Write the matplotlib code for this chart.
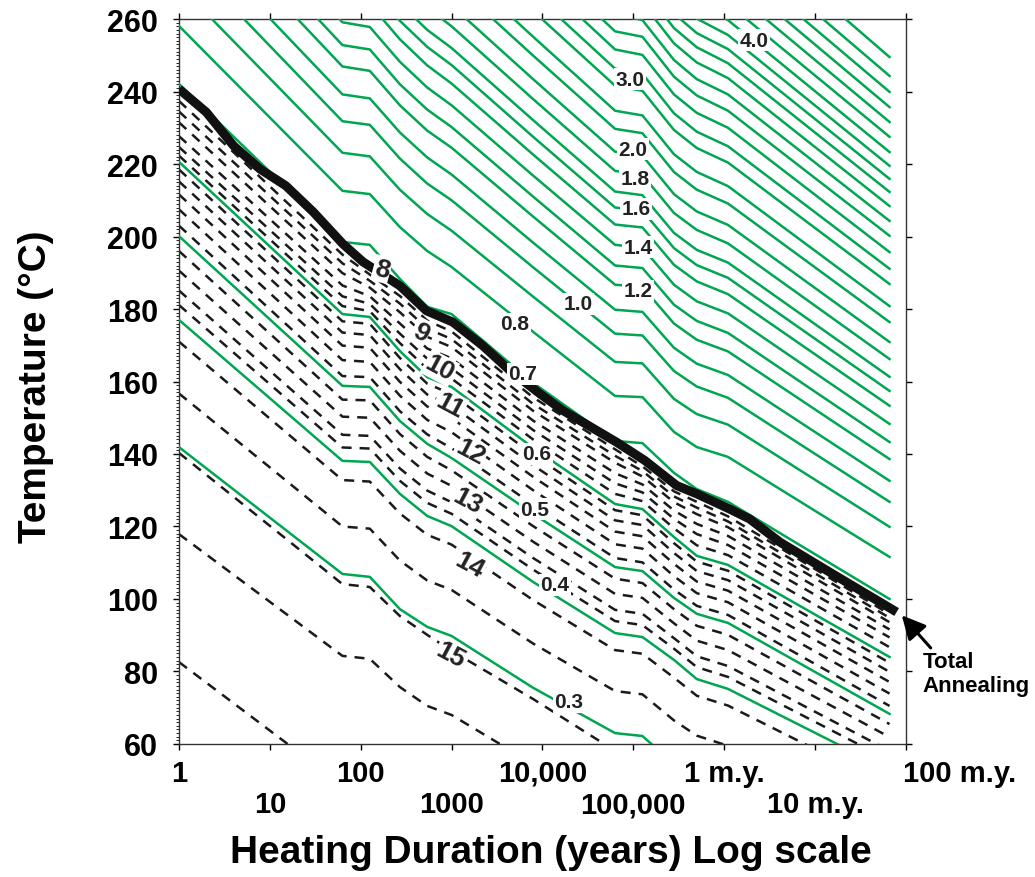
import numpy as np
import matplotlib.pyplot as plt
from matplotlib.ticker import MultipleLocator, NullFormatter

plt.rcParams['font.family'] = ['Liberation Sans', 'DejaVu Sans']
plt.rcParams['font.weight'] = 'bold'

nan = np.nan

# === DATOS ===
# tiempos (años) en los que se leen las curvas
years = [1, 63, 126, 270, 540, 1000, 7900, 63000, 126000, 280000, 500000, 1.1e6, 6.6e7]

# reflectancia de vitrinita (verde) por encima del recocido total, °C
ro_upper = [
    [258.1, 212.6, 211.7, 202.6, 196.0, 191.6, 173.7, 156.0, 155.7, 146.1, 141.9, 139.2, 111.6],
    [269.3, 223.1, 222.1, 212.9, 206.2, 201.6, 183.4, 165.4, 165.0, 155.2, 151.0, 148.1, 119.9],
    [278.6, 231.8, 230.8, 221.5, 214.6, 210.0, 191.5, 173.2, 172.7, 162.9, 158.6, 155.5, 126.8],
    [286.4, 239.2, 238.1, 228.7, 221.8, 217.1, 198.3, 179.8, 179.2, 169.3, 164.9, 161.8, 132.6],
    [294.6, 246.9, 245.7, 236.2, 229.2, 224.5, 205.5, 186.7, 186.1, 176.0, 171.5, 168.3, 138.6],
    [300.9, 252.8, 251.6, 242.0, 235.0, 230.2, 211.0, 192.0, 191.3, 181.2, 176.7, 173.4, 143.3],
    [307.6, 259.1, 257.8, 248.2, 241.1, 236.2, 216.8, 197.7, 196.9, 186.7, 182.1, 178.8, 148.3],
    [nan, nan, 264.1, 254.4, 247.2, 242.2, 222.6, 203.3, 202.5, 192.2, 187.6, 184.1, 153.3],
    [nan, nan, 269.3, 259.5, 252.3, 247.3, 227.5, 208.0, 207.1, 196.8, 192.1, 188.6, 157.4],
    [nan, nan, nan, 264.3, 257.0, 252.0, 232.1, 212.4, 211.4, 201.0, 196.3, 192.8, 161.3],
    [nan, nan, nan, nan, 263.1, 258.0, 237.9, 218.1, 217.0, 206.5, 201.8, 198.1, 166.2],
    [nan, nan, nan, nan, nan, 263.7, 243.4, 223.4, 222.3, 211.7, 206.9, 203.2, 170.9],
    [nan, nan, nan, nan, nan, 270.4, 249.9, 229.7, 228.5, 217.8, 212.9, 209.1, 176.4],
    [nan, nan, nan, nan, nan, 275.8, 255.1, 234.7, 233.4, 222.7, 217.8, 213.9, 180.8],
    [nan, nan, nan, nan, nan, nan, 262.2, 241.6, 240.2, 229.4, 224.4, 220.4, 186.9],
    [nan, nan, nan, nan, nan, nan, 267.1, 246.3, 244.9, 234.0, 228.9, 224.9, 191.1],
    [nan, nan, nan, nan, nan, nan, 272.6, 251.6, 250.1, 239.2, 234.1, 230.0, 195.7],
    [nan, nan, nan, nan, nan, nan, 277.8, 256.6, 255.1, 244.1, 238.9, 234.7, 200.2],
    [nan, nan, nan, nan, nan, nan, nan, 261.3, 259.7, 248.7, 243.4, 239.2, 204.3],
    [nan, nan, nan, nan, nan, nan, nan, nan, 264.4, 253.3, 248.0, 243.7, 208.4],
    [nan, nan, nan, nan, nan, nan, nan, nan, 268.7, 257.5, 252.2, 247.8, 212.3],
    [nan, nan, nan, nan, nan, nan, nan, nan, nan, 261.5, 256.1, 251.7, 215.9],
    [nan, nan, nan, nan, nan, nan, nan, nan, nan, 265.5, 260.1, 255.6, 219.5],
    [nan, nan, nan, nan, nan, nan, nan, nan, nan, nan, 264.3, 259.7, 223.3],
    [nan, nan, nan, nan, nan, nan, nan, nan, nan, nan, nan, 264.2, 227.5],
    [nan, nan, nan, nan, nan, nan, nan, nan, nan, nan, nan, 268.7, 231.6],
    [nan, nan, nan, nan, nan, nan, nan, nan, nan, nan, nan, 273.1, 235.7],
    [nan, nan, nan, nan, nan, nan, nan, nan, nan, nan, nan, 277.6, 239.9],
    [nan, nan, nan, nan, nan, nan, nan, nan, nan, nan, nan, 282.4, 244.3],
    [nan, nan, nan, nan, nan, nan, nan, nan, nan, nan, nan, 288.0, 249.5],
]

# reflectancia 0.7 ... 0.3 (debajo / a lo largo de la línea gruesa)
ro_lower = [
    [242.1, 198.5, 197.7, 188.3, 180.6, 178.6, 159.6, 143.6, 143.0, 134.8, 130.3, 126.8, 100.0],
    [220.6, 178.6, 177.8, 168.4, 161.2, 158.5, 141.7, 126.2, 124.8, 117.1, 111.9, 109.4, 84.0],
    [200.1, 158.8, 158.5, 149.1, 142.8, 138.9, 123.5, 108.8, 107.7, 100.3, 95.9, 93.4, 68.3],
    [177.0, 138.1, 137.8, 129.0, 122.9, 120.1, 104.7, 90.6, 89.5, 83.2, 77.9, 75.2, 52.7],
    [141.9, 106.9, 106.1, 97.2, 92.3, 89.8, 75.5, 63.0, 62.2, 54.5, nan, nan, nan],
]

# longitud de trazas de fisión (líneas discontinuas)
ft_lines = [
    [237.4, 195.0, 189.5, 183.6, 176.8, 173.8, 155.6, 141.3, 136.6, 129.7, 126.8, 122.8, 95.8],
    [234.5, 192.6, 187.8, 181.5, 174.6, 171.7, 153.8, 139.5, 135.3, 128.3, 125.2, 121.4, 94.8],
    [231.5, 189.9, 185.9, 179.1, 172.3, 169.5, 151.9, 137.6, 133.8, 126.7, 123.4, 119.8, 93.6],
    [227.7, 186.5, 183.5, 176.0, 169.1, 166.4, 149.2, 134.7, 131.6, 124.4, 120.7, 117.4, 91.6],
    [224.7, 183.5, 181.4, 173.2, 166.3, 163.6, 146.6, 131.9, 129.4, 122.1, 117.9, 114.9, 89.4],
    [222.3, 180.8, 179.4, 170.6, 163.5, 160.8, 144.0, 129.0, 127.0, 119.5, 114.8, 112.1, 86.7],
    [218.5, 176.6, 175.9, 166.5, 159.4, 156.5, 139.8, 124.5, 123.1, 115.4, 110.3, 107.8, 82.4],
    [215.2, 173.5, 172.8, 163.4, 156.4, 153.4, 136.9, 121.7, 120.4, 112.7, 107.7, 105.2, 79.9],
    [211.6, 169.9, 169.3, 159.9, 153.1, 149.9, 133.7, 118.6, 117.3, 109.7, 104.8, 102.3, 77.1],
    [207.5, 165.9, 165.4, 156.1, 149.4, 146.0, 130.0, 115.1, 113.9, 106.3, 101.6, 99.1, 73.9],
    [203.0, 161.5, 161.2, 151.8, 145.4, 141.6, 126.0, 111.3, 110.1, 102.6, 98.1, 95.6, 70.5],
    [196.0, 155.0, 154.8, 145.5, 139.2, 135.5, 120.1, 105.6, 104.4, 97.2, 92.6, 90.1, 65.5],
    [190.6, 150.3, 150.0, 140.9, 134.6, 131.2, 115.8, 101.4, 100.3, 93.3, 88.5, 85.9, 61.9],
    [185.1, 145.3, 145.0, 136.0, 129.9, 126.7, 111.3, 97.0, 95.9, 89.2, 84.2, 81.5, 58.1],
    [181.1, 141.8, 141.5, 132.6, 126.5, 123.5, 108.1, 93.9, 92.8, 86.3, 81.2, 78.5, 55.5],
    [171.0, 132.8, 132.4, 123.6, 117.7, 115.0, 99.7, 85.9, 84.9, 78.3, 73.3, 70.6, 48.3],
    [156.7, 120.0, 119.4, 110.6, 105.1, 102.5, 87.7, 74.6, 73.7, 66.5, 62.3, 59.5, 37.6],
    [140.3, 104.1, 103.3, 95.3, 90.1, 85.7, 72.4, 58.1, nan, nan, nan, nan, nan],
    [117.9, 84.3, 83.5, 75.7, 70.5, 68.0, 54.5, nan, nan, nan, nan, nan, nan],
    [82.6, 48.6, nan, nan, nan, nan, nan, nan, nan, nan, nan, nan, nan],
]

# recocido total (línea negra gruesa)
anneal_years = [1, 2, 4, 7.8, 15, 30, 64, 106, 270, 530, 1030, 2200, 4400, 9400,
                16800, 65000, 134000, 300000, 500000, 1.15e6, 1.9e6, 4.1e6, 1.45e7, 7.9e7]
anneal_T = [240.7, 234.3, 225.0, 218.6, 214.0, 206.8, 197.9, 193.0, 186.4, 179.5, 176.4,
            169.9, 163.0, 156.6, 152.0, 143.3, 138.2, 131.3, 129.0, 124.8, 122.1, 115.7,
            107.4, 96.4]

# etiquetas de reflectancia
ro_text = ['0.3', '0.4', '0.5', '0.6', '0.7', '0.8', '1.0', '1.2', '1.4', '1.6', '1.8',
           '2.0', '3.0', '4.0']
ro_text_x = [19500, 13700, 8250, 8700, 6080, 4970, 24500, 112000, 112000, 108000, 104000,
             98700, 91500, 2.12e6]
ro_text_T = [71.6, 103.9, 124.8, 140.0, 162.1, 176.0, 181.4, 185.0, 197.1, 207.6, 215.9,
             224.1, 243.4, 254.2]

# etiquetas de longitud de trazas
ft_text = ['8', '9', '10', '11', '12', '13', '14', '15']
ft_text_x = [171, 459, 743, 958, 1630, 1510, 1590, 982]
ft_text_T = [191.0, 173.7, 163.7, 153.5, 140.6, 127.0, 109.4, 84.6]

# ejes
yticks = [60, 80, 100, 120, 140, 160, 180, 200, 220, 240, 260]
xrow1 = [1, 100, 1e4, 1e6]
xrow1_lab = ['1', '100', '10,000', '1 m.y.']
xrow2 = [10, 1000, 1e5, 1e7]
xrow2_lab = ['10', '1000', '100,000', '10 m.y.']

green = '#00a651'

# === GRAFICAR ===
fig = plt.figure(figsize=(10.35, 8.78), dpi=100)
ax = fig.add_axes([0.1729, 0.1515, 0.7024, 0.8257])

for T in ft_lines:
    ax.plot(years, T, color='#1a1a1a', lw=1.8, ls=(0, (4, 3.2)), zorder=2)
for T in ro_upper + ro_lower:
    ax.plot(years, T, color=green, lw=1.8, zorder=3)
ax.plot(anneal_years, anneal_T, color='#111111', lw=6.5, solid_capstyle='butt', zorder=4)

box = dict(fc='white', ec='none', pad=1.0)
for s, x, T in zip(ro_text, ro_text_x, ro_text_T):
    ax.text(x, T, s, fontsize=15, fontweight='bold', color='#222222',
            ha='center', va='center', bbox=box, zorder=6)
for s, x, T in zip(ft_text, ft_text_x, ft_text_T):
    rot = -15 if s == '8' else -28
    ax.text(x, T, s, fontsize=19, fontweight='bold', color='#222222', rotation=rot,
            ha='center', va='center', bbox=box, zorder=6, rotation_mode='anchor')

ax.set_xscale('log')
ax.set_xlim(1, 1e8)
ax.set_ylim(60, 260)
ax.set_yticks(yticks)
ax.set_yticklabels([str(v) for v in yticks], fontsize=22, fontweight='bold')
ax.yaxis.set_minor_locator(MultipleLocator(1))
ax.tick_params(axis='y', which='major', direction='out', length=4, width=1,
               pad=11, right=True, left=True)
ax.tick_params(axis='y', which='minor', direction='out', length=2, width=0.6,
               right=False, left=True)
ax.set_xticks([10.0 ** k for k in range(9)])
ax.xaxis.set_minor_locator(plt.NullLocator())
ax.xaxis.set_major_formatter(NullFormatter())
ax.tick_params(axis='x', direction='out', length=4, width=1, top=True, bottom=True)
for sp in ax.spines.values():
    sp.set_linewidth(1.0)
    sp.set_color('#333333')

tr = ax.get_xaxis_transform()
for x, s in zip(xrow1, xrow1_lab):
    ax.text(x, -0.040, s, transform=tr, fontsize=21, fontweight='bold',
            ha='center', va='center')
ax.text(0.93e8, -0.040, '100 m.y.', transform=tr, fontsize=21, fontweight='bold',
        ha='left', va='center')
for x, s in zip(xrow2, xrow2_lab):
    ax.text(x, -0.083, s, transform=tr, fontsize=21, fontweight='bold',
            ha='center', va='center')

fig.text(0.532, 0.029, 'Heating Duration (years) Log scale', fontsize=28,
         fontweight='bold', ha='center', va='center')
fig.text(0.035, 0.560, 'Temperature (°C)', fontsize=28, fontweight='bold',
         rotation=90, ha='center', va='center')

ax.annotate('Total\nAnnealing', xy=(9.0e7, 95.5), xytext=(1.52e8, 79.5),
            fontsize=16, fontweight='bold', ha='left', va='center',
            annotation_clip=False,
            arrowprops=dict(arrowstyle='-|>,head_length=0.9,head_width=0.45',
                            color='black', lw=2.2, shrinkA=0, shrinkB=0,
                            relpos=(0.1, 1.0)))

fig.savefig('out.png', dpi=100)
